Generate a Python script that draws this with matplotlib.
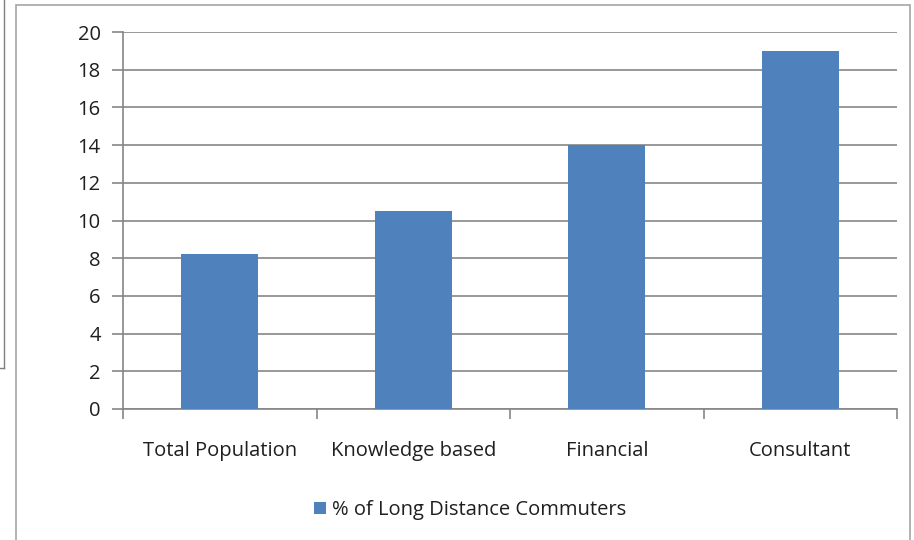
import matplotlib
matplotlib.use("Agg")
import matplotlib.pyplot as plt
from matplotlib.lines import Line2D
from matplotlib.patches import Rectangle

categories = ["Total Population", "Knowledge based", "Financial", "Consultant"]
values = [8.2, 10.5, 14.0, 19.0]
series_name = "% of Long Distance Commuters"
yticks = [0, 2, 4, 6, 8, 10, 12, 14, 16, 18, 20]

bar_color = "#4f81bd"
grid_color = "#868686"
text_color = "#1f1f1f"
fs = 14.5

plt.rcParams["font.family"] = ["Open Sans", "DejaVu Sans"]

fig = plt.figure(figsize=(9.14, 5.40), dpi=100)

# chart frame and the stray border on the left
fig.add_artist(Rectangle((16 / 914, -0.01), 894 / 914, 1 - 5 / 540 + 0.01,
                         transform=fig.transFigure, fill=False,
                         edgecolor="#a6a6a6", lw=1.2))
fig.add_artist(Line2D([3.5 / 914, 3.5 / 914], [1, 1 - 368 / 540],
                      transform=fig.transFigure, color="#7f7f7f", lw=1))
fig.add_artist(Line2D([0, 3.5 / 914], [1 - 368 / 540, 1 - 368 / 540],
                      transform=fig.transFigure, color="#7f7f7f", lw=1))

ax = fig.add_axes([123 / 914, 131 / 540, 774 / 914, 377 / 540])
x = range(len(categories))
ax.bar(x, values, width=0.4, color=bar_color, zorder=3, label=series_name)

ax.set_xlim(-0.5, len(categories) - 0.5)
ax.set_ylim(0, 20)
ax.set_yticks(yticks)
ax.set_yticklabels([str(t) for t in yticks], fontsize=fs, color=text_color)
ax.yaxis.grid(True, color=grid_color, lw=1.2, zorder=0)
ax.tick_params(axis="y", length=8, width=1.2, color=grid_color, pad=8)

ax.set_xticks([i - 0.5 for i in range(len(categories) + 1)])
ax.set_xticklabels([])
ax.set_xticks(list(x), minor=True)
ax.set_xticklabels(categories, minor=True, fontsize=fs, color=text_color)
ax.tick_params(axis="x", which="major", length=7, width=1.2, color=grid_color)
ax.tick_params(axis="x", which="minor", length=0, pad=23)

for s in ["top", "right"]:
    ax.spines[s].set_visible(False)
for s in ["left", "bottom"]:
    ax.spines[s].set_color(grid_color)
    ax.spines[s].set_linewidth(1.2)

fig.legend(loc="center", bbox_to_anchor=(470 / 914, 1 - 510 / 540),
           frameon=False, fontsize=fs, handlelength=0.6, handleheight=0.6,
           handletextpad=0.3, labelcolor=text_color)

fig.savefig("out.png", dpi=100)
